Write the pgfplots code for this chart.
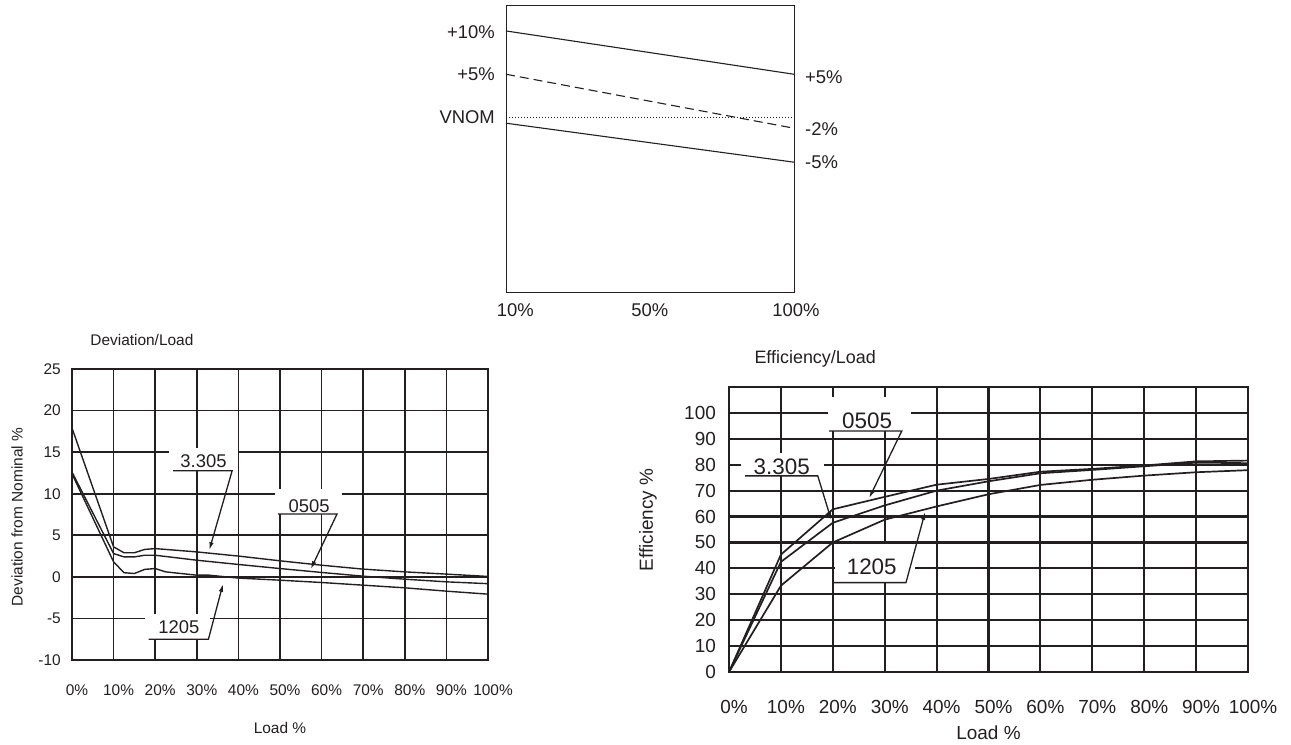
\documentclass[border=0pt]{standalone}
\usepackage{fontspec}
\setmainfont{Liberation Sans}
\usepackage{pgfplots}
\pgfplotsset{compat=1.18}
\usetikzlibrary{arrows.meta}

\definecolor{ink}{HTML}{231F20}

\newcommand{\fs}[1]{\fontsize{#1}{#1}\selectfont}

\tikzset{
  curve/.style={draw=ink, line width=1.4bp},
  callout/.style={draw=ink, line width=1.3bp, -{Latex[length=8bp,width=4.5bp]}},
}

\begin{document}
\begin{tikzpicture}
\useasboundingbox (0bp,0bp) rectangle (1291bp,745bp);

% ---------- top: output voltage schematic ----------
\begin{axis}[
  at={(506bp,452bp)}, anchor=south west, scale only axis,
  width=288bp, height=287bp,
  xmin=0, xmax=2, ymin=-20.25, ymax=12.88,
  xtick={0.05,0.985,2}, xticklabels={10\%,50\%,100\%},
  ytick=\empty, major tick length=0pt,
  axis line style={draw=ink, line width=1bp},
  tick label style={font=\fs{18.5}, text=ink},
  xticklabel style={anchor=center, yshift=-17bp, xshift=2bp},
  clip=false,
]
\addplot[draw=ink, line width=1.1bp] coordinates {(0,10.0) (2,5.0)};
\addplot[draw=ink, line width=1.1bp, dash pattern=on 9bp off 5bp] coordinates {(0,5.0) (2,-1.23)};
\addplot[draw=ink, line width=1.1bp, dash pattern=on 1.2bp off 1.8bp] coordinates {(0,0) (2,0)};
\addplot[draw=ink, line width=1.1bp] coordinates {(0,-0.65) (2,-5.15)};

\begin{scope}[every node/.style={inner sep=0pt, font=\fs{18.5}, text=ink}]
\node[anchor=east, xshift=-11bp] at (axis cs:0,9.84) {+10\%};
\node[anchor=east, xshift=-11bp] at (axis cs:0,5.04) {+5\%};
\node[anchor=east, xshift=-11bp] at (axis cs:0,0) {VNOM};
\node[anchor=west, xshift=11bp] at (axis cs:2,4.69) {+5\%};
\node[anchor=west, xshift=11bp] at (axis cs:2,-1.28) {-2\%};
\node[anchor=west, xshift=11bp] at (axis cs:2,-5.17) {-5\%};
\end{scope}
\end{axis}

% ---------- bottom left: deviation / load ----------
\begin{axis}[
  at={(72bp,85bp)}, anchor=south west, scale only axis,
  width=416bp, height=291bp,
  xmin=0, xmax=100, ymin=-10, ymax=25,
  xtick={0,10,...,100}, ytick={-10,-5,...,25},
  xticklabels={0\%,10\%,20\%,30\%,40\%,50\%,60\%,70\%,80\%,90\%,100\%},
  yticklabels={-10,-5,0,5,10,15,20,25},
  grid=major, major grid style={draw=ink, line width=1.6bp},
  axis line style={draw=ink, line width=1.6bp},
  major tick length=0pt,
  tick label style={font=\fs{15.5}, text=ink},
  xticklabel style={anchor=center, yshift=-30bp, xshift=5bp},
  yticklabel style={anchor=east, inner sep=0pt, xshift=-11bp},
  title={Deviation/Load},
  title style={at={(axis description cs:0.168,1.08)}, anchor=center, font=\fs{15.5}, text=ink},
  xlabel={Load \%},
  xlabel style={at={(axis description cs:0.5,-0.234)}, anchor=center, font=\fs{15.5}, text=ink},
  ylabel={Deviation from Nominal \%},
  ylabel style={at={(axis description cs:-0.132,0.491)}, anchor=center, font=\fs{15.5}, text=ink},
  clip=false,
]
% 3.305
\addplot[curve] coordinates {
  (0,17.9) (10,3.6) (12.5,2.9) (15,2.9) (17.5,3.3) (20,3.4) (30,3.0)
  (40,2.5) (50,1.93) (60,1.4) (70,0.93) (80,0.6) (90,0.33) (100,0.05)
};
% 0505
\addplot[curve] coordinates {
  (0,12.6) (10,2.8) (12.5,2.4) (15,2.4) (17.5,2.6) (20,2.6) (30,2.0)
  (40,1.49) (50,1.0) (60,0.53) (70,0.08) (80,-0.28) (90,-0.6) (100,-0.82)
};
% 1205
\addplot[curve] coordinates {
  (0,12.4) (10,1.8) (12.5,0.5) (15,0.4) (17.5,0.9) (20,1.0) (22.5,0.6)
  (30,0.2) (33,0.2) (40,-0.15) (50,-0.4) (60,-0.68) (70,-1.0) (80,-1.32)
  (90,-1.72) (100,-2.08)
};

\fill[white] (axis cs:23.4,12.75) rectangle (axis cs:39.8,15.5);
\fill[white] (axis cs:48.8,7.55) rectangle (axis cs:64.8,10.6);
\fill[white] (axis cs:17.6,-7.6) rectangle (axis cs:33.2,-4.5);

\begin{scope}[every node/.style={inner sep=0pt, anchor=base, font=\fs{18.5}, text=ink}]
\node at (axis cs:31.6,13.18) {3.305};
\node at (axis cs:57.0,7.78) {0505};
\node at (axis cs:25.7,-6.8) {1205};
\end{scope}
\draw[callout] (axis cs:24.3,12.77) -- (axis cs:38.5,12.77) -- (axis cs:33,3.21);
\draw[callout] (axis cs:49.5,7.55) -- (axis cs:63.7,7.55) -- (axis cs:57.4,0.93);
\draw[callout] (axis cs:18.4,-7.5) -- (axis cs:32.8,-7.5) -- (axis cs:36.3,-0.85);
\end{axis}

% ---------- bottom right: efficiency / load ----------
\begin{axis}[
  at={(729bp,73bp)}, anchor=south west, scale only axis,
  width=519bp, height=285bp,
  xmin=0, xmax=100, ymin=0, ymax=110,
  xtick={0,10,...,100}, ytick={0,10,...,100},
  xticklabels={0\%,10\%,20\%,30\%,40\%,50\%,60\%,70\%,80\%,90\%,100\%},
  yticklabels={0,10,20,30,40,50,60,70,80,90,100},
  grid=major, major grid style={draw=ink, line width=2.1bp},
  axis line style={draw=ink, line width=2.1bp},
  major tick length=0pt,
  tick label style={font=\fs{19}, text=ink},
  xticklabel style={anchor=center, yshift=-35bp, xshift=5bp},
  yticklabel style={anchor=east, inner sep=0pt, xshift=-13bp},
  title={Efficiency/Load},
  title style={at={(axis description cs:0.166,1.077)}, anchor=center, font=\fs{18}, text=ink},
  xlabel={Load \%},
  xlabel style={at={(axis description cs:0.5,-0.214)}, anchor=center, font=\fs{19}, text=ink},
  ylabel={Efficiency \%},
  ylabel style={at={(axis description cs:-0.156,0.533)}, anchor=center, font=\fs{19}, text=ink},
  clip=false,
]
% 0505
\addplot[curve, line width=1.7bp] coordinates {
  (0,0) (10,45.3) (20,62.8) (30,67.6) (40,72.3) (50,74.5) (60,77.3)
  (70,78.4) (80,79.7) (90,81.3) (100,81.6)
};
% 3.305
\addplot[curve, line width=1.7bp] coordinates {
  (0,0) (10,42.5) (20,57.6) (30,64.3) (40,70.0) (50,73.6) (60,76.7)
  (70,78.0) (80,79.4) (90,80.8) (100,80.6)
};
% 1205
\addplot[curve, line width=1.7bp] coordinates {
  (0,0) (10,33.3) (20,50.0) (30,58.8) (40,63.9) (50,68.6) (60,72.2)
  (70,74.2) (80,75.8) (90,77.1) (100,77.9)
};

\fill[white] (axis cs:19.1,93.05) rectangle (axis cs:35.1,106);
\fill[white] (axis cs:2.3,75.7) rectangle (axis cs:18.3,84.5);
\fill[white] (axis cs:20.4,34.5) rectangle (axis cs:35.8,49.3);

\begin{scope}[every node/.style={inner sep=0pt, anchor=base, font=\fs{22.5}, text=ink}]
\node at (axis cs:26.6,94.1) {0505};
\node at (axis cs:10.15,76.3) {3.305};
\node at (axis cs:27.5,37.45) {1205};
\end{scope}
\draw[callout] (axis cs:19.3,93.05) -- (axis cs:33.3,93.05) -- (axis cs:27,67.1);
\draw[callout] (axis cs:3.1,75.7) -- (axis cs:17.1,75.7) -- (axis cs:19.7,58.7);
\draw[callout] (axis cs:20.2,34.5) -- (axis cs:34.1,34.5) -- (axis cs:37.8,61.8);
\end{axis}
\end{tikzpicture}
\end{document}
